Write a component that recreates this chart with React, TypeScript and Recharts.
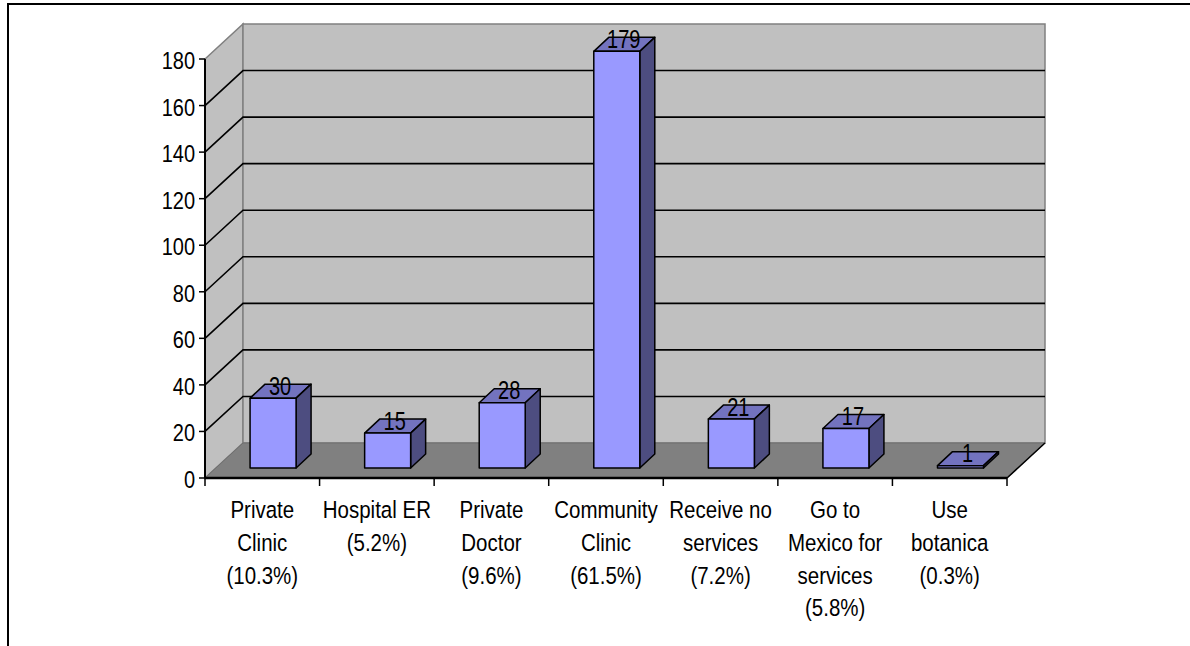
import { BarChart, Bar, XAxis, YAxis, CartesianGrid, LabelList } from 'recharts';

const categories = [
  'Private Clinic (10.3%)',
  'Hospital ER (5.2%)',
  'Private Doctor (9.6%)',
  'Community Clinic (61.5%)',
  'Receive no services (7.2%)',
  'Go to Mexico for services (5.8%)',
  'Use botanica (0.3%)',
];
const categoryLines = [
  ['Private', 'Clinic', '(10.3%)'],
  ['Hospital ER', '(5.2%)'],
  ['Private', 'Doctor', '(9.6%)'],
  ['Community', 'Clinic', '(61.5%)'],
  ['Receive no', 'services', '(7.2%)'],
  ['Go to', 'Mexico for', 'services', '(5.8%)'],
  ['Use', 'botanica', '(0.3%)'],
];
const counts = [30, 15, 28, 179, 21, 17, 1];
const yTicks = [0, 20, 40, 60, 80, 100, 120, 140, 160, 180];

const data = categories.map((name, i) => ({ name, count: counts[i] }));

const WIDTH = 1190;
const HEIGHT = 646;
const AXIS_LEFT = 205;
const AXIS_BOTTOM = 168;
const MARGIN = { top: 59, right: 183, bottom: 0, left: 0 };
const FONT = '"Liberation Sans", Arial, sans-serif';

// depth of the fake 3D box
const DEPTH_X = 38;
const DEPTH_Y = 35;
// bars stand a little way back on the floor
const BAR_X = 10.7;
const BAR_Y = 10;
const BAR_DEPTH_X = 15;
const BAR_DEPTH_Y = 14;

function Walls({ x, r }: { x: number; r: number }) {
  const y = MARGIN.top;
  const b = HEIGHT - AXIS_BOTTOM;
  return (
    <g>
      <polygon
        points={`${x},${y} ${x + DEPTH_X},${y - DEPTH_Y} ${x + DEPTH_X},${b - DEPTH_Y} ${x},${b}`}
        fill="#c0c0c0"
        stroke="#808080"
        strokeWidth={1.5}
      />
      <rect x={x + DEPTH_X} y={y - DEPTH_Y} width={r - x} height={b - y} fill="#c0c0c0" stroke="#808080" strokeWidth={1.5} />
      <polygon
        points={`${x},${b} ${x + DEPTH_X},${b - DEPTH_Y} ${r + DEPTH_X},${b - DEPTH_Y} ${r},${b}`}
        fill="#808080"
        stroke="#6e6e6e"
        strokeWidth={1}
      />
      <line x1={r} y1={b} x2={r + DEPTH_X} y2={b - DEPTH_Y} stroke="#000" strokeWidth={1.5} />
    </g>
  );
}

function gridLine(props: any) {
  const { x1, y1, x2, y2, index } = props;
  // first and last lines are the box edges, not grid lines
  const isEdge = y1 <= MARGIN.top + 1 || y1 >= HEIGHT - AXIS_BOTTOM - 1;
  return (
    <g key={index}>
      {index === 0 && <Walls x={x1} r={x2} />}
      {!isEdge && (
        <polyline
          points={`${x1},${y1} ${x1 + DEPTH_X},${y1 - DEPTH_Y} ${x2 + DEPTH_X},${y2 - DEPTH_Y}`}
          fill="none"
          stroke="#000"
          strokeWidth={1.6}
        />
      )}
    </g>
  );
}

function Bar3D(props: any) {
  const { x, y, width, height } = props;
  const fx = x + BAR_X;
  const fy = y - BAR_Y;
  const r = fx + width;
  const b = fy + height;
  const dx = BAR_DEPTH_X;
  const dy = BAR_DEPTH_Y;
  return (
    <g stroke="#000" strokeWidth={1.5} strokeLinejoin="round">
      <polygon points={`${fx},${fy} ${fx + dx},${fy - dy} ${r + dx},${fy - dy} ${r},${fy}`} fill="#7373bf" />
      <polygon points={`${r},${fy} ${r + dx},${fy - dy} ${r + dx},${b - dy} ${r},${b}`} fill="#4d4d80" />
      <rect x={fx} y={fy} width={width} height={height} fill="#9999ff" />
    </g>
  );
}

function ValueLabel(props: any) {
  const { x, y, width, value } = props;
  return (
    <text
      transform={`translate(${x + BAR_X + width / 2 + 7},${y - BAR_Y - 3.5}) scale(1,1.25)`}
      textAnchor="middle"
      fontFamily={FONT}
      fontSize={20}
      fill="#000"
    >
      {value}
    </text>
  );
}

function CategoryTick(props: any) {
  const { x, y, payload, index } = props;
  const band = (WIDTH - AXIS_LEFT - MARGIN.right) / categories.length;
  const lines = categoryLines[index] ?? [payload.value];
  const left = x - band / 2;
  return (
    <g>
      <line x1={left} y1={y - 8} x2={left} y2={y} stroke="#000" strokeWidth={1.5} />
      {index === categories.length - 1 && (
        <line x1={left + band} y1={y - 8} x2={left + band} y2={y} stroke="#000" strokeWidth={1.5} />
      )}
      {lines.map((line: string, i: number) => (
        <text
          key={line}
          transform={`translate(${x},${y + 32 + i * 32.8}) scale(1,1.13)`}
          textAnchor="middle"
          fontFamily={FONT}
          fontSize={20.5}
          fill="#000"
        >
          {line}
        </text>
      ))}
    </g>
  );
}

function ValueTick(props: any) {
  const { x, y, payload } = props;
  return (
    <text
      transform={`translate(${x - 2},${y + 10}) scale(1,1.15)`}
      textAnchor="end"
      fontFamily={FONT}
      fontSize={20}
      fill="#000"
    >
      {payload.value}
    </text>
  );
}

export default function App() {
  return (
    <div style={{ position: 'absolute', left: 0, top: 0, width: WIDTH, height: HEIGHT, overflow: 'hidden', background: '#fff' }}>
      <div
        style={{
          position: 'absolute',
          left: 7,
          top: 3,
          width: 1190,
          height: 700,
          borderLeft: '2px solid #000',
          borderTop: '2px solid #000',
        }}
      />
      <div style={{ position: 'absolute', left: 0, top: 0 }}>
        <BarChart width={WIDTH} height={HEIGHT} data={data} margin={MARGIN} barCategoryGap="30%">
          <CartesianGrid vertical={false} horizontal={gridLine} syncWithTicks />
          <XAxis
            dataKey="name"
            interval={0}
            height={AXIS_BOTTOM}
            axisLine={{ stroke: '#000', strokeWidth: 2.5 }}
            tickLine={false}
            tick={CategoryTick}
          />
          <YAxis
            domain={[0, 180]}
            ticks={yTicks}
            interval={0}
            width={AXIS_LEFT}
            axisLine={{ stroke: '#000', strokeWidth: 2 }}
            tickLine={{ stroke: '#000', strokeWidth: 1.5 }}
            tickSize={6}
            tick={ValueTick}
          />
          <Bar dataKey="count" shape={Bar3D} isAnimationActive={false}>
            <LabelList dataKey="count" content={ValueLabel} />
          </Bar>
        </BarChart>
      </div>
    </div>
  );
}
